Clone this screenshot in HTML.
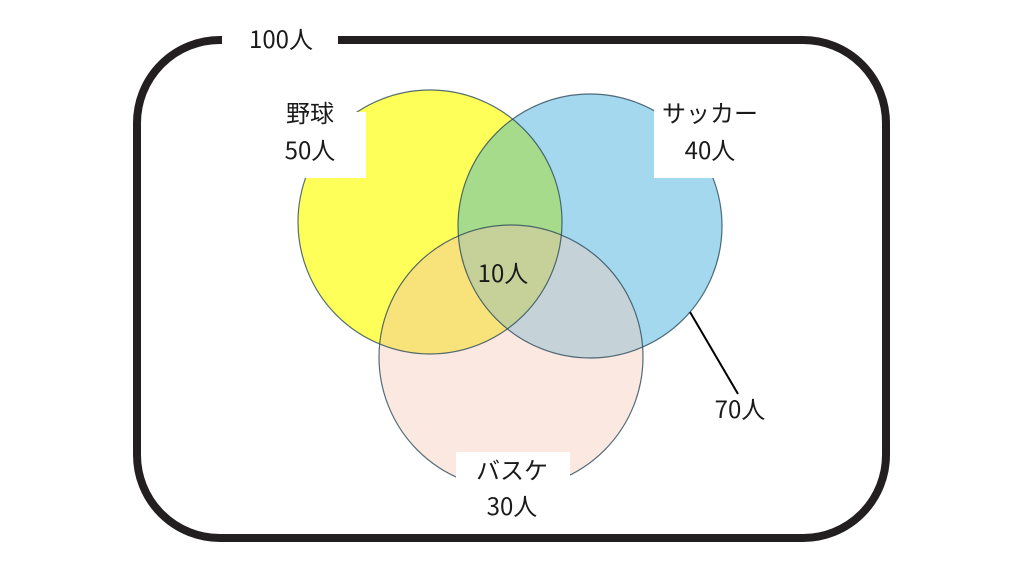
<!DOCTYPE html>
<html><head><meta charset="utf-8"><style>
html,body{margin:0;padding:0;background:#fff;}
svg{display:block}
text{font-family:"Noto Sans CJK JP","Liberation Sans",sans-serif;font-size:24px;fill:#1a1a1a;text-anchor:middle}
</style></head><body>
<svg width="1024" height="576" viewBox="0 0 1024 576">
<defs>
<clipPath id="cy"><circle cx="430" cy="222" r="132"/></clipPath>
<clipPath id="cb"><circle cx="590" cy="226" r="132"/></clipPath>
<clipPath id="cpy" clip-path="url(#cy)"><circle cx="511" cy="357" r="132"/></clipPath>
<clipPath id="cpb" clip-path="url(#cb)"><circle cx="511" cy="357" r="132"/></clipPath>
</defs>
<path d="M222 40 H220 A83 83 0 0 0 137 123 V455 A83 83 0 0 0 220 538 H803 A83 83 0 0 0 886 455 V123 A83 83 0 0 0 803 40 H338" fill="none" stroke="#231f20" stroke-width="8"/>
<text x="281" y="48">100人</text>
<circle cx="430" cy="222" r="132" fill="#ffff5a"/>
<circle cx="590" cy="226" r="132" fill="#a3d8ee"/>
<circle cx="590" cy="226" r="132" fill="#a6db8c" clip-path="url(#cy)"/>
<circle cx="511" cy="357" r="132" fill="#fbe8e0"/>
<rect x="0" y="0" width="1024" height="576" fill="#f8e27a" clip-path="url(#cpy)"/>
<rect x="0" y="0" width="1024" height="576" fill="#c5d3d8" clip-path="url(#cpb)"/>
<g clip-path="url(#cy)"><rect x="0" y="0" width="1024" height="576" fill="#c6d19a" clip-path="url(#cpb)"/></g>
<circle cx="430" cy="222" r="132" fill="none" stroke="#2a4a5a" stroke-width="1.2" stroke-opacity="0.8"/>
<circle cx="590" cy="226" r="132" fill="none" stroke="#2a4a5a" stroke-width="1.2" stroke-opacity="0.8"/>
<circle cx="511" cy="357" r="132" fill="none" stroke="#2a4a5a" stroke-width="1.2" stroke-opacity="0.8"/>
<rect x="268" y="112" width="98" height="66" fill="#fff"/>
<rect x="654" y="95" width="112" height="83" fill="#fff"/>
<rect x="456" y="452" width="114" height="70" fill="#fff"/>
<text x="310" y="122">野球</text>
<text x="310" y="159">50人</text>
<text x="710" y="122">サッカー</text>
<text x="710" y="159">40人</text>
<text x="503" y="282">10人</text>
<text x="512" y="479">バスケ</text>
<text x="512" y="515">30人</text>
<line x1="690" y1="312" x2="738" y2="394" stroke="#000" stroke-width="2"/>
<text x="740" y="418">70人</text>
</svg>
</body></html>
